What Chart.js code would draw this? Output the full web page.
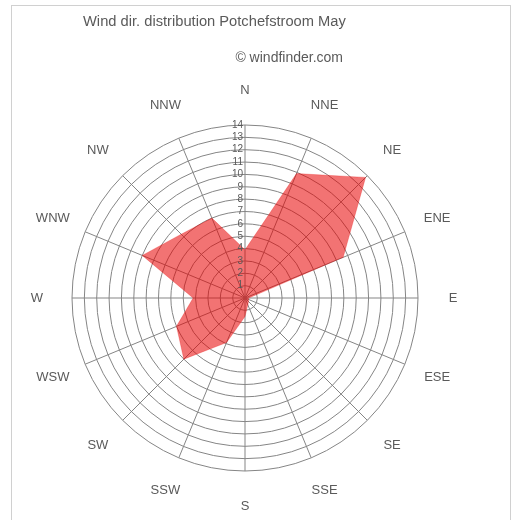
<!DOCTYPE html>
<html>
<head>
<meta charset="utf-8">
<script src="https://cdn.jsdelivr.net/npm/chart.js@4.4.1/dist/chart.umd.min.js"></script>
<style>
  html, body { margin: 0; padding: 0; background: #fff; }
  #wrap { position: relative; width: 517px; height: 520px; overflow: hidden; }
  #frame { position: absolute; left: 11px; top: 5px; width: 498px; height: 530px; border: 1px solid #d0d0d0; }
  canvas { position: absolute; left: 0; top: 0; }
</style>
</head>
<body>
<div id="wrap">
  <div id="frame"></div>
  <canvas id="windChart" width="517" height="520"></canvas>
</div>
<script>
const directions = ['N', 'NNE', 'NE', 'ENE', 'E', 'ESE', 'SE', 'SSE', 'S', 'SSW', 'SW', 'WSW', 'W', 'WNW', 'NW', 'NNW'];
const windPercent = [3.9, 10.9, 13.8, 8.6, 0.3, 0.3, 0.4, 0.6, 1.5, 3.9, 7.0, 6.0, 4.2, 9.0, 7.3, 7.0];
const tickValues = [1, 2, 3, 4, 5, 6, 7, 8, 9, 10, 11, 12, 13, 14];
const titleText = 'Wind dir. distribution Potchefstroom May';
const subtitleText = '\u00a9 windfinder.com';

const textGray = '#5a5a5a';

// labels, ticks and the heading are painted by hand so they sit where the original has them
const labelPlugin = {
    id: 'windLabels',
    afterDraw(chart) {
        const ctx = chart.ctx;
        const scale = chart.scales.r;
        ctx.save();
        ctx.fillStyle = textGray;
        ctx.textBaseline = 'middle';

        ctx.font = '14.7px "Liberation Sans", Arial, sans-serif';
        ctx.textAlign = 'left';
        ctx.fillText(titleText, 83, 22);
        ctx.font = '14px "Liberation Sans", Arial, sans-serif';
        ctx.textAlign = 'right';
        ctx.fillText(subtitleText, 343, 58);

        ctx.font = '13px "Liberation Sans", Arial, sans-serif';
        ctx.textAlign = 'center';
        directions.forEach((d, i) => {
            const p = scale.getPointPosition(i, scale.drawingArea + 35);
            ctx.fillText(d, p.x, p.y);
        });

        ctx.font = '10px "Liberation Sans", Arial, sans-serif';
        ctx.textAlign = 'right';
        tickValues.forEach(v => {
            const p = scale.getPointPosition(0, scale.getDistanceFromCenterForValue(v));
            ctx.fillText(String(v), p.x - 2, p.y);
        });
        ctx.restore();
    }
};

const ctx = document.getElementById('windChart').getContext('2d');
new Chart(ctx, {
    type: 'radar',
    data: {
        labels: directions,
        datasets: [{
            label: 'Wind direction',
            data: windPercent,
            backgroundColor: 'rgba(232, 0, 0, 0.55)',
            borderColor: 'rgba(232, 0, 0, 0.25)',
            borderWidth: 1,
            pointRadius: 0,
            tension: 0
        }]
    },
    options: {
        responsive: false,
        animation: false,
        layout: { padding: { left: 72, top: 125, right: 99, bottom: 49 } },
        plugins: {
            legend: { display: false },
            tooltip: { enabled: false }
        },
        scales: {
            r: {
                min: 0,
                max: 14,
                startAngle: 0,
                ticks: { display: false, stepSize: 1 },
                pointLabels: { display: false },
                grid: { color: '#858585', lineWidth: 1, circular: true },
                angleLines: { color: '#858585', lineWidth: 1 }
            }
        }
    },
    plugins: [labelPlugin]
});
</script>
</body>
</html>
